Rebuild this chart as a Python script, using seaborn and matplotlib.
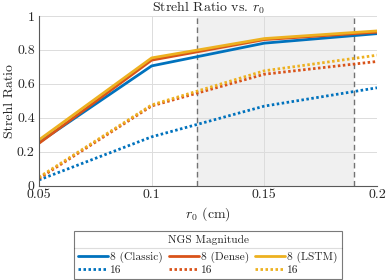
import matplotlib
matplotlib.use("Agg")
import matplotlib.pyplot as plt
import seaborn as sns
import numpy as np
from matplotlib.lines import Line2D
from matplotlib.ticker import FixedLocator, FixedFormatter

sns.set_style("white")
plt.rcParams['font.family'] = ['cmr10', 'DejaVu Serif']
plt.rcParams['mathtext.fontset'] = 'cm'
plt.rcParams['axes.unicode_minus'] = False

# ---- data ----
r0 = [0.05, 0.10, 0.15, 0.20]
classic_8 = [0.255, 0.706, 0.840, 0.896]
dense_8 = [0.250, 0.740, 0.861, 0.905]
lstm_8 = [0.270, 0.753, 0.867, 0.912]
classic_16 = [0.034, 0.288, 0.469, 0.577]
dense_16 = [0.043, 0.470, 0.657, 0.732]
lstm_16 = [0.050, 0.476, 0.677, 0.769]
shade_range = [0.12, 0.19]
xticks = [0.05, 0.10, 0.15, 0.20]
xticklabels = ["0.05", "0.1", "0.15", "0.2"]
yticks = [0, 0.2, 0.4, 0.6, 0.8, 1.0]
yticklabels = ["0", "0.2", "0.4", "0.6", "0.8", "1"]

c_blue, c_orange, c_yellow = "#0072BD", "#D95319", "#EDB120"

W, H = 386, 280
fig = plt.figure(figsize=(W/100, H/100), dpi=100)
ax = fig.add_axes([39/W, 1-185.7/H, (377-39)/W, (185.7-16)/H])

ax.axvspan(shade_range[0], shade_range[1], color="#f0f0f0", zorder=0.1, lw=0)
for xv in shade_range:
    ax.axvline(xv, color="0.45", lw=1.0, dashes=(4, 2.5), zorder=0.6)

series = [
    (classic_8, c_blue, '-', "8 (Classic)"),
    (classic_16, c_blue, ':', "16"),
    (dense_8, c_orange, '-', "8 (Dense)"),
    (dense_16, c_orange, ':', "16"),
    (lstm_8, c_yellow, '-', "8 (LSTM)"),
    (lstm_16, c_yellow, ':', "16"),
]
handles = []
for vals, col, ls, lab in series:
    sns.lineplot(x=r0, y=vals, ax=ax, color=col, legend=False)
    ln = ax.lines[-1]
    ln.set_linewidth(2.0)
    if ls == ':':
        ln.set_linestyle((0, (0.9, 0.9)))
        ln.set_dash_capstyle('butt')
    ln.set_label(lab)
    handles.append(ln)

ax.set_xlim(0.05, 0.2)
ax.set_ylim(0, 1)
ax.xaxis.set_major_locator(FixedLocator(xticks))
ax.xaxis.set_major_formatter(FixedFormatter(xticklabels))
ax.yaxis.set_major_locator(FixedLocator(yticks))
ax.yaxis.set_major_formatter(FixedFormatter(yticklabels))
ax.set_axisbelow(True)
ax.grid(True, color="#dcdcdc", lw=0.7, zorder=0.5)
for s in ["top", "right"]:
    ax.spines[s].set_visible(False)
for s in ["left", "bottom"]:
    ax.spines[s].set_color("0.35")
    ax.spines[s].set_linewidth(0.8)
ax.tick_params(direction="in", length=3, width=0.7, color="0.35",
               labelsize=10, labelcolor="#262626")
ax.tick_params(axis="x", pad=2.5)
ax.tick_params(axis="y", pad=3)

ax.set_title(r"Strehl Ratio vs. $r_0$", fontsize=10, color="#262626", pad=3)
ax.set_xlabel(r"$r_0$ (cm)", fontsize=10, color="#262626", labelpad=3)
ax.set_ylabel("Strehl Ratio", fontsize=10, color="#262626")
ax.yaxis.set_label_coords((15.5 - 39) / 338, 0.5)

leg = fig.legend(handles=handles, ncol=3, loc="lower center",
                 bbox_to_anchor=(208/W, 0.0), title="NGS Magnitude",
                 fontsize=8.2, title_fontsize=8.2, frameon=True, fancybox=False,
                 edgecolor="0.35", handlelength=2.6, handletextpad=0.2,
                 columnspacing=0.55, labelspacing=0.2, borderpad=0.33,
                 borderaxespad=0.1)
leg.get_frame().set_linewidth(0.8)
for t in leg.get_texts():
    t.set_color("#262626")
leg.get_title().set_color("#262626")
leg._legend_box.sep = 5

fig.canvas.draw()
r = fig.canvas.get_renderer()
lb = leg.get_window_extent(r)
tb = leg.get_title().get_window_extent(r)
hb = leg._legend_handle_box.get_window_extent(r)
ysep = (tb.y0 + hb.y1) / 2
fig.add_artist(Line2D([lb.x0 / fig.bbox.width, lb.x1 / fig.bbox.width],
                      [ysep / fig.bbox.height, ysep / fig.bbox.height],
                      transform=fig.transFigure, color="0.35", lw=0.8))

fig.savefig("out.png", dpi=100)
